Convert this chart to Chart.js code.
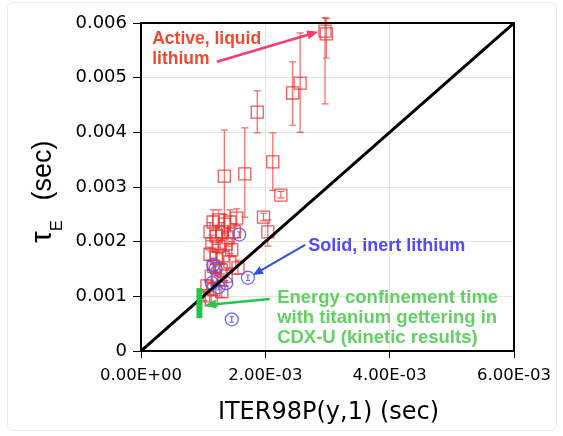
<!DOCTYPE html>
<html lang="en">
<head>
  <meta charset="UTF-8">
  <title>Energy confinement time vs ITER98P</title>
  <script src="https://cdn.jsdelivr.net/npm/chart.js"></script>
  <style>
    body {
      margin: 0;
      background: #fff;
    }
    canvas {
      display: block;
    }
  </style>
</head>
<body>
  <canvas id="chart" width="563" height="436"></canvas>

  <script>
    // tick labels
    const xTickLabels = ['0.00E+00', '2.00E-03', '4.00E-03', '6.00E-03'];
    const yTickLabels = ['0', '0.001', '0.002', '0.003', '0.004', '0.005', '0.006'];

    // active, liquid lithium (red squares) - x, tauE, error bar low / high
    const liquidX = [
      2.96e-3, 2.98e-3, 2.56e-3, 2.44e-3, 1.87e-3, 1.34e-3, 1.67e-3, 2.12e-3, 2.25e-3, 1.97e-3, 2.04e-3,
      1.16e-3, 1.25e-3, 1.34e-3, 1.43e-3, 1.54e-3, 1.11e-3, 1.21e-3, 1.30e-3, 1.40e-3, 1.50e-3,
      1.14e-3, 1.25e-3, 1.37e-3, 1.46e-3, 1.11e-3, 1.21e-3, 1.32e-3, 1.43e-3, 1.17e-3, 1.29e-3,
      1.13e-3, 1.24e-3, 1.37e-3, 1.06e-3, 1.17e-3, 1.30e-3, 1.01e-3, 1.13e-3, 1.56e-3
    ];
    const liquidY = [
      5.85e-3, 5.80e-3, 4.90e-3, 4.72e-3, 4.37e-3, 3.20e-3, 3.24e-3, 3.46e-3, 2.85e-3, 2.45e-3, 2.18e-3,
      2.36e-3, 2.40e-3, 2.32e-3, 2.36e-3, 2.43e-3, 2.18e-3, 2.10e-3, 2.18e-3, 2.07e-3, 2.18e-3,
      1.96e-3, 1.92e-3, 1.96e-3, 1.85e-3, 1.77e-3, 1.70e-3, 1.74e-3, 1.63e-3, 1.55e-3, 1.48e-3,
      1.37e-3, 1.30e-3, 1.37e-3, 1.19e-3, 1.12e-3, 1.08e-3, 1.01e-3, 0.93e-3, 1.52e-3
    ];
    const liquidLo = [
      4.52e-3, 5.36e-3, 4.00e-3, 4.13e-3, 3.99e-3, 2.05e-3, 2.45e-3, 2.94e-3, 2.80e-3, 2.38e-3, 1.92e-3,
      2.20e-3, 2.25e-3, 2.15e-3, 2.20e-3, 2.30e-3, 2.02e-3, 1.95e-3, 2.02e-3, 1.92e-3, 2.05e-3,
      1.82e-3, 1.78e-3, 1.82e-3, 1.72e-3, 1.64e-3, 1.56e-3, 1.60e-3, 1.50e-3, 1.42e-3, 1.35e-3,
      1.25e-3, 1.18e-3, 1.25e-3, 1.08e-3, 1.02e-3, 0.98e-3, 0.92e-3, 0.85e-3, 1.40e-3
    ];
    const liquidHi = [
      6.10e-3, 6.08e-3, 5.82e-3, 5.29e-3, 4.76e-3, 4.04e-3, 4.08e-3, 3.99e-3, 2.92e-3, 2.52e-3, 2.40e-3,
      2.58e-3, 2.58e-3, 2.50e-3, 2.58e-3, 2.60e-3, 2.35e-3, 2.30e-3, 2.35e-3, 2.25e-3, 2.33e-3,
      2.12e-3, 2.08e-3, 2.12e-3, 2.00e-3, 1.90e-3, 1.85e-3, 1.88e-3, 1.78e-3, 1.70e-3, 1.62e-3,
      1.50e-3, 1.44e-3, 1.50e-3, 1.30e-3, 1.24e-3, 1.20e-3, 1.12e-3, 1.02e-3, 1.66e-3
    ];

    // solid, inert lithium (blue circles)
    const solidX = [1.58e-3, 1.72e-3, 1.46e-3, 1.16e-3, 1.20e-3, 1.14e-3, 1.37e-3, 1.25e-3];
    const solidY = [2.13e-3, 1.34e-3, 0.58e-3, 1.57e-3, 1.50e-3, 1.24e-3, 1.24e-3, 1.17e-3];
    const solidErr = [0.05e-3, 0.05e-3, 0.05e-3, 0.05e-3, 0.05e-3, 0.05e-3, 0.05e-3, 0.05e-3];

    // titanium gettering (green bar)
    const titaniumX = [0.94e-3, 0.94e-3];
    const titaniumY = [0.60e-3, 1.15e-3];

    // unity line
    const unityX = [0, 6e-3];
    const unityY = [0, 6e-3];

    const toPoints = (xs, ys) => xs.map((x, i) => ({ x: x, y: ys[i] }));

    const errorBars = {
      id: 'errorBars',
      beforeDatasetsDraw(chart) {
        const ctx = chart.ctx;
        const xs = chart.scales.x, ys = chart.scales.y;
        ctx.save();
        ctx.lineWidth = 1.2;
        ctx.strokeStyle = 'rgba(235, 45, 45, 0.72)';
        liquidX.forEach((x, i) => {
          const px = xs.getPixelForValue(x);
          const top = ys.getPixelForValue(liquidHi[i]);
          const bot = ys.getPixelForValue(liquidLo[i]);
          ctx.beginPath();
          ctx.moveTo(px, top); ctx.lineTo(px, bot);
          ctx.moveTo(px - 3.5, top); ctx.lineTo(px + 3.5, top);
          ctx.moveTo(px - 3.5, bot); ctx.lineTo(px + 3.5, bot);
          ctx.stroke();
        });
        ctx.strokeStyle = 'rgba(80, 80, 255, 0.85)';
        solidX.forEach((x, i) => {
          const px = xs.getPixelForValue(x);
          const top = ys.getPixelForValue(solidY[i] + solidErr[i]);
          const bot = ys.getPixelForValue(solidY[i] - solidErr[i]);
          ctx.beginPath();
          ctx.moveTo(px, top); ctx.lineTo(px, bot);
          ctx.moveTo(px - 2, top); ctx.lineTo(px + 2, top);
          ctx.moveTo(px - 2, bot); ctx.lineTo(px + 2, bot);
          ctx.stroke();
        });
        ctx.restore();
      }
    };

    function arrow(ctx, x1, y1, x2, y2, color, width, head) {
      const a = Math.atan2(y2 - y1, x2 - x1);
      ctx.strokeStyle = color;
      ctx.fillStyle = color;
      ctx.lineWidth = width;
      ctx.beginPath();
      ctx.moveTo(x1, y1);
      ctx.lineTo(x2 - Math.cos(a) * head * 0.8, y2 - Math.sin(a) * head * 0.8);
      ctx.stroke();
      ctx.beginPath();
      ctx.moveTo(x2, y2);
      ctx.lineTo(x2 - head * Math.cos(a - 0.4), y2 - head * Math.sin(a - 0.4));
      ctx.lineTo(x2 - head * Math.cos(a + 0.4), y2 - head * Math.sin(a + 0.4));
      ctx.closePath();
      ctx.fill();
    }

    const decorations = {
      id: 'decorations',
      afterDraw(chart) {
        const ctx = chart.ctx;
        const a = chart.chartArea;
        const xs = chart.scales.x, ys = chart.scales.y;
        const X = v => xs.getPixelForValue(v);
        const Y = v => ys.getPixelForValue(v);
        ctx.save();

        // faint window edge seen in the screenshot
        ctx.strokeStyle = '#ececec';
        ctx.lineWidth = 1;
        ctx.beginPath();
        ctx.roundRect(7.5, 2.5, 549, 428, 6);
        ctx.stroke();

        // frame
        ctx.strokeStyle = '#000';
        ctx.lineWidth = 2;
        ctx.strokeRect(a.left, a.top, a.right - a.left, a.bottom - a.top);

        // axis titles
        ctx.fillStyle = '#000';
        ctx.textBaseline = 'alphabetic';
        ctx.font = '24px "DejaVu Sans"';
        ctx.textAlign = 'center';
        ctx.fillText('ITER98P(y,1) (sec)', (a.left + a.right) / 2 + 1, 419);

        ctx.save();
        ctx.translate(51, 243);
        ctx.rotate(-Math.PI / 2);
        ctx.textAlign = 'left';
        ctx.font = '30px "Liberation Sans"';
        ctx.fillText('\u03c4', 0, 0);
        ctx.font = '16px "Liberation Sans"';
        ctx.fillText('E', 12, 11);
        ctx.font = '27px "Liberation Sans"';
        ctx.fillText(' (sec)', 35, 0);
        ctx.restore();

        // annotations
        ctx.textAlign = 'left';
        ctx.font = 'bold 17.5px "Liberation Sans"';
        ctx.fillStyle = '#f04a2e';
        ctx.fillText('Active, liquid', X(0.18e-3), Y(5.62e-3));
        ctx.fillText('lithium', X(0.18e-3), Y(5.25e-3));
        arrow(ctx, X(1.22e-3), Y(5.29e-3), X(2.85e-3), Y(5.84e-3), '#ff3a6e', 2.5, 12);

        ctx.font = 'bold 18px "Liberation Sans"';
        ctx.fillStyle = '#5548ff';
        ctx.fillText('Solid, inert lithium', X(2.69e-3), Y(1.83e-3));
        arrow(ctx, X(2.64e-3), Y(1.94e-3), X(1.80e-3), Y(1.39e-3), '#2f4fdc', 2, 11);

        ctx.font = 'bold 18.5px "Liberation Sans"';
        ctx.fillStyle = '#62d062';
        ctx.fillText('Energy confinement time', X(2.19e-3), Y(0.88e-3));
        ctx.fillText('with titanium gettering in', X(2.19e-3), Y(0.51e-3));
        ctx.fillText('CDX-U (kinetic results)', X(2.19e-3), Y(0.14e-3));
        arrow(ctx, X(2.07e-3), Y(0.95e-3), X(1.03e-3), Y(0.84e-3), '#22c84a', 2.5, 12);

        ctx.restore();
      }
    };

    new Chart(document.getElementById('chart').getContext('2d'), {
      type: 'scatter',
      data: {
        datasets: [
          {
            type: 'line',
            data: toPoints(titaniumX, titaniumY),
            borderColor: '#1ec94a',
            borderWidth: 6,
            pointRadius: 0,
            borderCapStyle: 'butt'
          },
          {
            type: 'line',
            data: toPoints(unityX, unityY),
            borderColor: '#000',
            borderWidth: 3,
            pointRadius: 0
          },
          {
            data: toPoints(solidX, solidY),
            pointStyle: 'circle',
            pointRadius: 6.5,
            borderColor: 'rgba(80, 80, 255, 0.85)',
            backgroundColor: 'rgba(0,0,0,0)',
            borderWidth: 1.3
          },
          {
            data: toPoints(liquidX, liquidY),
            pointStyle: 'rect',
            pointRadius: 8.5,
            borderColor: 'rgba(235, 45, 45, 0.78)',
            backgroundColor: 'rgba(0,0,0,0)',
            borderWidth: 1.3
          }
        ]
      },
      options: {
        responsive: false,
        animation: false,
        layout: { padding: { left: 0, right: 49, top: 23, bottom: 0 } },
        plugins: {
          legend: { display: false },
          tooltip: { enabled: false }
        },
        scales: {
          x: {
            type: 'linear',
            min: 0,
            max: 6e-3,
            afterFit: s => { s.height = 85; },
            afterBuildTicks: s => { s.ticks = xTickLabels.map((t, i) => ({ value: i * 2e-3 })); },
            ticks: {
              color: '#000',
              padding: 8,
              maxRotation: 0,
              font: { family: 'DejaVu Sans', size: 16.5 },
              callback: (v) => xTickLabels[Math.round(v / 2e-3)]
            },
            grid: { color: '#e4e4e4', tickColor: '#000', tickLength: 7, lineWidth: 1 },
            border: { color: '#000', width: 2 }
          },
          y: {
            type: 'linear',
            min: 0,
            max: 6e-3,
            afterFit: s => { s.width = 141; },
            afterBuildTicks: s => { s.ticks = yTickLabels.map((t, i) => ({ value: i * 1e-3 })); },
            ticks: {
              color: '#000',
              padding: 6,
              font: { family: 'DejaVu Sans', size: 18 },
              callback: (v) => yTickLabels[Math.round(v / 1e-3)]
            },
            grid: { color: '#e4e4e4', tickColor: '#000', tickLength: 8, lineWidth: 1 },
            border: { color: '#000', width: 2 }
          }
        }
      },
      plugins: [errorBars, decorations]
    });
  </script>
</body>
</html>
